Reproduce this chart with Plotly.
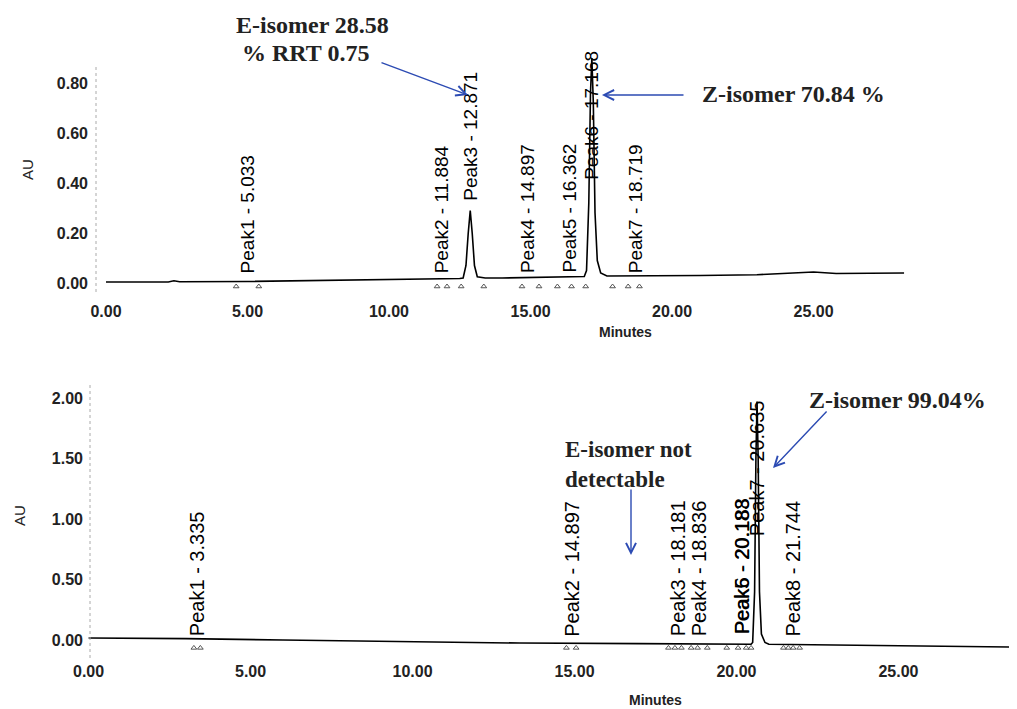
import plotly.graph_objects as go

# the page body has an 8 px margin, so the figure starts 8 px in from the window's corner
OFF = 8
W, H = 1017 - OFF, 709 - OFF

# ---------------- data: top chromatogram (mixture) ----------------
top_time = [0.0, 2.2, 2.4, 2.6, 5.0, 8.0, 11.0, 12.5, 12.62, 12.72, 12.8, 12.871, 12.94, 13.02, 13.12, 13.4,
            14.0, 15.0, 16.0, 16.9, 16.98, 17.06, 17.12, 17.168, 17.22, 17.28, 17.36, 17.48, 17.7,
            19.0, 21.0, 23.0, 24.5, 25.0, 25.8, 27.0, 28.2]
top_au = [0.004, 0.004, 0.009, 0.005, 0.006, 0.010, 0.015, 0.018, 0.02, 0.07, 0.20, 0.29, 0.20, 0.07, 0.025, 0.02,
          0.02, 0.022, 0.025, 0.026, 0.05, 0.32, 0.76, 0.90, 0.72, 0.28, 0.09, 0.04, 0.028,
          0.028, 0.03, 0.033, 0.042, 0.044, 0.038, 0.04, 0.04]
top_peak_names = ["Peak1 - 5.033", "Peak2 - 11.884", "Peak3 - 12.871", "Peak4 - 14.897",
                  "Peak5 - 16.362", "Peak6 - 17.168", "Peak7 - 18.719"]
top_peak_rt = [5.033, 11.884, 12.871, 14.897, 16.362, 17.168, 18.719]
top_label_au = [0.036, 0.036, 0.324, 0.036, 0.036, 0.41, 0.036]
top_marks = [4.6, 5.4, 11.7, 12.05, 12.55, 13.35, 14.7, 15.3, 15.95, 16.45, 16.95, 17.9, 18.45, 18.85]

# ---------------- data: bottom chromatogram (purified) ----------------
bot_time = [0.0, 3.0, 6.0, 10.0, 13.3, 17.0, 20.45, 20.5, 20.56, 20.6, 20.635, 20.67, 20.71, 20.77, 20.88, 21.0,
            23.0, 26.0, 28.66]
bot_au = [0.017, 0.012, 0.0, -0.015, -0.025, -0.03, -0.035, -0.02, 0.4, 1.5, 1.97, 1.5, 0.4, 0.05, -0.02, -0.035,
          -0.04, -0.05, -0.058]
bot_peak_names = ["Peak1 - 3.335", "Peak2 - 14.897", "Peak3 - 18.181", "Peak4 - 18.836",
                  "Peak5 - 20.183", "Peak6 - 20.188", "Peak7 - 20.635", "Peak8 - 21.744"]
bot_peak_rt = [3.335, 14.897, 18.181, 18.836, 20.183, 20.188, 20.635, 21.744]
bot_label_au = [0.025, 0.02, 0.02, 0.02, 0.04, 0.04, 0.85, 0.02]
bot_marks = [3.25, 3.45, 14.75, 15.05, 17.9, 18.1, 18.3, 18.6, 18.8, 19.1, 19.7, 20.05, 20.3, 20.45,
             21.45, 21.6, 21.75, 21.95]

top_yticks = [0.0, 0.2, 0.4, 0.6, 0.8]
bot_yticks = [0.0, 0.5, 1.0, 1.5, 2.0]
x_ticks = [0, 5, 10, 15, 20, 25]


def px(x):
    return (x - OFF) / W


def py(y):
    return 1 - (y - OFF) / H


fig = go.Figure()
fig.add_trace(go.Scatter(x=top_time, y=top_au, mode="lines", line=dict(color="black", width=1.6),
                         xaxis="x", yaxis="y", showlegend=False))
fig.add_trace(go.Scatter(x=top_marks, y=[-0.014] * len(top_marks), mode="markers",
                         marker=dict(symbol="triangle-up-open", size=5, color="#555", line=dict(width=1)),
                         xaxis="x", yaxis="y", showlegend=False))
fig.add_trace(go.Scatter(x=bot_time, y=bot_au, mode="lines", line=dict(color="black", width=1.6),
                         xaxis="x2", yaxis="y2", showlegend=False))
fig.add_trace(go.Scatter(x=bot_marks, y=[-0.065] * len(bot_marks), mode="markers",
                         marker=dict(symbol="triangle-up-open", size=5, color="#555", line=dict(width=1)),
                         xaxis="x2", yaxis="y2", showlegend=False))

tickf = dict(family="Liberation Sans, Arial", size=16, color="#222", weight="bold")
axis_common = dict(showgrid=False, zeroline=False, showline=False, ticks="", tickfont=tickf, automargin=False)

fig.update_layout(
    template="none",
    width=W, height=H, autosize=False,
    margin=dict(l=0, r=0, t=0, b=0, pad=0),
    paper_bgcolor="white", plot_bgcolor="white",
    xaxis=dict(domain=[px(96), px(1000)], range=[-0.353, 31.59], tickvals=x_ticks, tickformat=".2f",
               anchor="y", ticklabelstandoff=0, **axis_common),
    yaxis=dict(domain=[py(300), py(45)], range=[-0.068, 0.952], tickvals=top_yticks, tickformat=".2f",
               anchor="x", ticklabelstandoff=7, **axis_common),
    xaxis2=dict(domain=[px(86), 1.0], range=[-0.08, 28.66], tickvals=x_ticks, tickformat=".2f",
                anchor="y2", ticklabelstandoff=0, **axis_common),
    yaxis2=dict(domain=[py(660), py(385)], range=[-0.165, 2.107], tickvals=bot_yticks, tickformat=".2f",
                anchor="x2", ticklabelstandoff=2, **axis_common),
)

# dotted y-axis lines
fig.add_shape(type="line", xref="paper", yref="paper", x0=px(96), x1=px(96), y0=py(67), y1=py(292),
              line=dict(color="#aaa", width=1, dash="dot"))
fig.add_shape(type="line", xref="paper", yref="paper", x0=px(90), x1=px(90), y0=py(385), y1=py(658),
              line=dict(color="#aaa", width=1, dash="dot"))

lab_font_top = dict(family="Liberation Sans, Arial", size=19, color="black")
lab_font_bot = dict(family="Liberation Sans, Arial", size=20, color="black")
for name, rt, yv in zip(top_peak_names, top_peak_rt, top_label_au):
    fig.add_annotation(x=rt, y=yv, xref="x", yref="y", text=name, textangle=-90, showarrow=False,
                       xanchor="center", yanchor="bottom", font=lab_font_top, borderpad=0)
for name, rt, yv in zip(bot_peak_names, bot_peak_rt, bot_label_au):
    fig.add_annotation(x=rt, y=yv, xref="x2", yref="y2", text=name, textangle=-90, showarrow=False,
                       xanchor="center", yanchor="bottom", font=lab_font_bot, borderpad=0)


def note(x, y, text, font, xanchor="center", angle=0, align="center"):
    fig.add_annotation(x=px(x), y=py(y), xref="paper", yref="paper", text=text, showarrow=False,
                       xanchor=xanchor, yanchor="middle", textangle=angle, align=align, font=font)


# axis titles
au_font = dict(family="Liberation Sans, Arial", size=15, color="#222")
min_font = dict(family="Liberation Sans, Arial", size=14, color="#222", weight="bold")
note(27, 170, "AU", au_font, angle=-90)
note(19, 516, "AU", au_font, angle=-90)
note(625, 332, "Minutes", min_font)
note(655, 700, "Minutes", min_font)

serif = dict(family="Liberation Serif, Times New Roman", size=24, color="#222", weight="bold")
serif2 = dict(family="Liberation Serif, Times New Roman", size=23, color="#222", weight="bold")
blue = "#2c4bb3"

note(312, 25, "E-isomer 28.58", serif)
note(305, 53, "% RRT 0.75", serif)
note(700, 94, "Z-isomer 70.84 %", serif, xanchor="left")
note(807, 400, "Z-isomer 99.04%", serif, xanchor="left")
note(563, 464, "E-isomer not<br>detectable", serif2, xanchor="left", align="left")


def arrow(tail, tip):
    fig.add_annotation(x=px(tip[0]), y=py(tip[1]), xref="paper", yref="paper", text="",
                       showarrow=True, ax=tail[0] - tip[0], ay=tail[1] - tip[1],
                       arrowhead=5, arrowsize=1.4, arrowwidth=1.4, arrowcolor=blue, standoff=0)


arrow((380, 62), (468, 95))
arrow((685, 95), (602, 95))
arrow((828, 410), (773, 468))
arrow((631, 488), (631, 555))

fig.write_html("out.html")
